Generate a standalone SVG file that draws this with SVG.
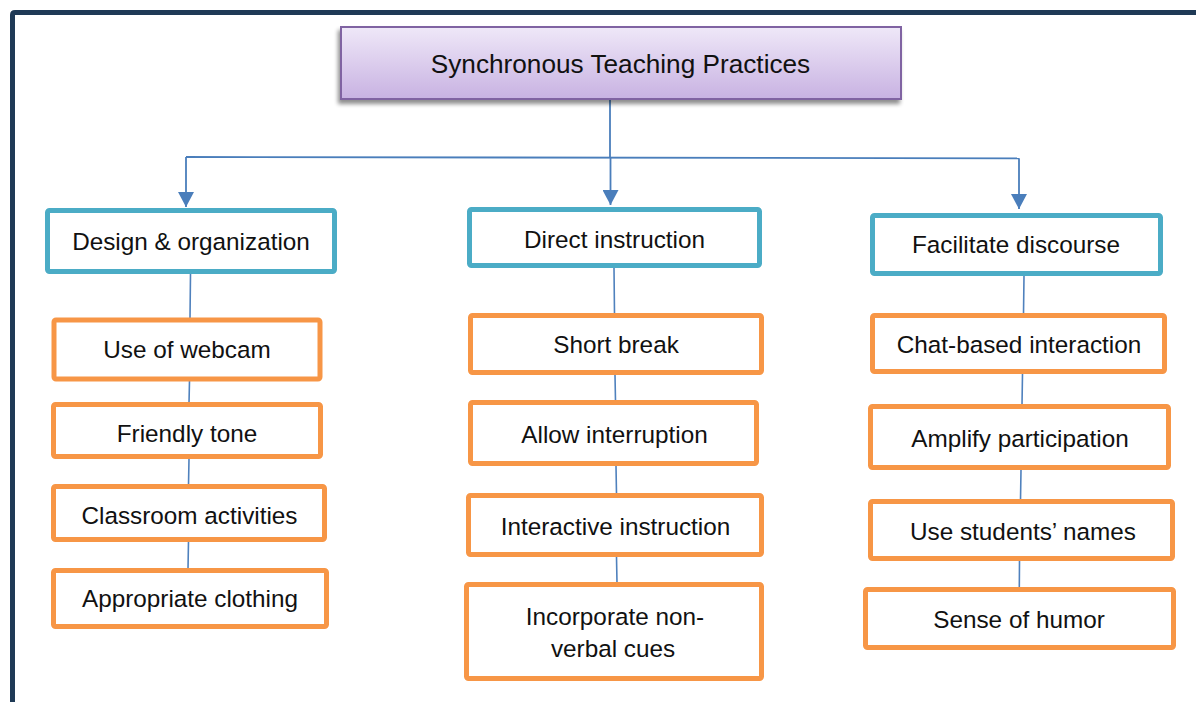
<svg xmlns="http://www.w3.org/2000/svg" width="1196" height="702" viewBox="0 0 1196 702">
<defs>
<linearGradient id="purp" x1="0" y1="0" x2="0" y2="1">
<stop offset="0" stop-color="#efe8f8"/>
<stop offset="1" stop-color="#c8b2e2"/>
</linearGradient>
<filter id="shadow" x="-5%" y="-20%" width="110%" height="150%">
<feGaussianBlur in="SourceAlpha" stdDeviation="2"/>
<feOffset dx="-2" dy="4" result="b"/>
<feComponentTransfer><feFuncA type="linear" slope="0.45"/></feComponentTransfer>
<feMerge><feMergeNode/><feMergeNode in="SourceGraphic"/></feMerge>
</filter>
<marker id="arrd" markerUnits="userSpaceOnUse" markerWidth="16" markerHeight="16" refX="15" refY="8" orient="auto" viewBox="0 0 16 16">
<path d="M0,0 L15,8 L0,16 Z" fill="#4a7ebb"/>
</marker>
</defs>
<style>
.t{font-family:"Liberation Sans",Arial,sans-serif;font-size:24.3px;fill:#111;text-anchor:middle}
.title{font-size:26.2px}
.teal{fill:#fff;stroke:#4bacc6;stroke-width:5}
.org{fill:#fff;stroke:#f79646;stroke-width:5}
.con{fill:none;stroke:#4f81bd;stroke-width:1.6}
.arw{fill:none;stroke:#4a7ebb;stroke-width:1.8}
</style>
<rect width="1196" height="702" fill="#fff"/>
<path d="M12.5,702 V15 Q12.5,12.5 15,12.5 H1196" fill="none" stroke="#1f3a56" stroke-width="5"/>

<g id="connectors">
<path class="arw" d="M610,100 V158"/>
<path class="arw" d="M186,157 L1019,158.3"/>
<path class="arw" d="M186,157 V207" marker-end="url(#arrd)"/>
<path class="arw" d="M610.5,158 V205" marker-end="url(#arrd)"/>
<path class="arw" d="M1019,158.3 V209" marker-end="url(#arrd)"/>
<path class="con" d="M190.5,274 L190,318 M189.5,381 L189,403 M189,459 L188.5,485 M188.5,541 L188,569"/>
<path class="con" d="M614,268 L614.5,314 M615,375 L615.5,401 M616,466 L616.5,494 M616.5,557 L617,583"/>
<path class="con" d="M1024,276 L1023.5,314 M1022.5,374 L1022,405 M1021,470 L1020.5,500 M1019.5,561 L1019.3,588"/>
</g>

<g id="root">
<rect x="341" y="27" width="560" height="72" fill="url(#purp)" stroke="#8064a2" stroke-width="2" filter="url(#shadow)"/>
<text class="t title" x="620.5" y="73">Synchronous Teaching Practices</text>
</g>

<g id="design">
<rect class="teal" x="47.5" y="210.5" width="287" height="61" rx="2"/>
<text class="t" x="191" y="250">Design &amp; organization</text>
</g>
<g id="direct">
<rect class="teal" x="469.5" y="209.5" width="290" height="56" rx="2"/>
<text class="t" x="614.5" y="248">Direct instruction</text>
</g>
<g id="facilitate">
<rect class="teal" x="872.5" y="215.5" width="288" height="58" rx="2"/>
<text class="t" x="1016" y="253">Facilitate discourse</text>
</g>

<g id="webcam">
<rect class="org" x="54" y="320" width="266" height="59" rx="2"/>
<text class="t" x="187" y="358">Use of webcam</text>
</g>
<g id="friendly">
<rect class="org" x="53.5" y="404.5" width="267" height="52" rx="2"/>
<text class="t" x="187" y="442">Friendly tone</text>
</g>
<g id="classroom">
<rect class="org" x="53.5" y="486.5" width="271" height="53" rx="2"/>
<text class="t" x="189.5" y="524">Classroom activities</text>
</g>
<g id="clothing">
<rect class="org" x="53.5" y="570.5" width="273" height="56" rx="2"/>
<text class="t" x="190" y="607">Appropriate clothing</text>
</g>

<g id="shortbreak">
<rect class="org" x="470.5" y="315.5" width="291" height="57" rx="2"/>
<text class="t" x="616" y="353">Short break</text>
</g>
<g id="interruption">
<rect class="org" x="470.5" y="402.5" width="286" height="61" rx="2"/>
<text class="t" x="614.5" y="443">Allow interruption</text>
</g>
<g id="interactive">
<rect class="org" x="468.5" y="495.5" width="293" height="59" rx="2"/>
<text class="t" x="615.5" y="535">Interactive instruction</text>
</g>
<g id="nonverbal">
<rect class="org" x="466.5" y="584.5" width="295" height="94" rx="2"/>
<text class="t" x="615" y="625">Incorporate non-</text>
<text class="t" x="613" y="657">verbal cues</text>
</g>

<g id="chat">
<rect class="org" x="872.5" y="315.5" width="292" height="56" rx="2"/>
<text class="t" x="1019" y="353">Chat-based interaction</text>
</g>
<g id="amplify">
<rect class="org" x="870.5" y="406.5" width="298" height="61" rx="2"/>
<text class="t" x="1020" y="447">Amplify participation</text>
</g>
<g id="names">
<rect class="org" x="870.5" y="501.5" width="302" height="57" rx="2"/>
<text class="t" x="1023" y="540">Use students’ names</text>
</g>
<g id="humor">
<rect class="org" x="865.5" y="589.5" width="308" height="58" rx="2"/>
<text class="t" x="1019" y="628">Sense of humor</text>
</g>
</svg>
